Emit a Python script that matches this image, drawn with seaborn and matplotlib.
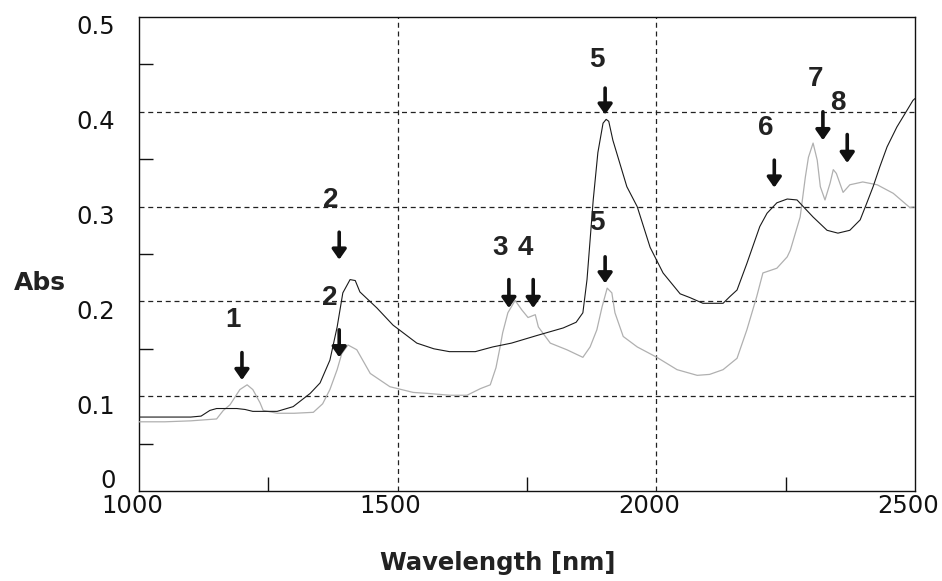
import numpy as np
import pandas as pd
import matplotlib
matplotlib.use("Agg")
import matplotlib.pyplot as plt
from matplotlib.transforms import ScaledTranslation
import seaborn as sns

# ---- data ----
wl_dark = [1000, 1050, 1100, 1120, 1137, 1150, 1189, 1205, 1220, 1267, 1298, 1331, 1350,
           1369, 1383, 1394, 1408, 1418, 1427, 1460, 1491, 1537, 1570, 1600, 1650, 1684,
           1720, 1769, 1820, 1845, 1858, 1866, 1872, 1878, 1887, 1897, 1903, 1908, 1916,
           1943, 1963, 1988, 2013, 2046, 2065, 2090, 2129, 2142, 2156, 2175, 2191, 2200,
           2214, 2233, 2253, 2272, 2284, 2303, 2330, 2351, 2374, 2394, 2407, 2419, 2432,
           2446, 2465, 2485, 2496, 2500]
abs_dark = [0.078, 0.078, 0.078, 0.079, 0.085, 0.087, 0.087, 0.086, 0.084, 0.084, 0.089,
            0.103, 0.114, 0.138, 0.173, 0.209, 0.223, 0.222, 0.210, 0.193, 0.175, 0.156,
            0.150, 0.147, 0.147, 0.152, 0.156, 0.164, 0.172, 0.178, 0.188, 0.223, 0.265,
            0.307, 0.357, 0.388, 0.392, 0.390, 0.370, 0.321, 0.300, 0.257, 0.230, 0.208,
            0.204, 0.198, 0.198, 0.205, 0.212, 0.240, 0.265, 0.279, 0.293, 0.304, 0.308,
            0.307, 0.300, 0.289, 0.275, 0.272, 0.275, 0.286, 0.304, 0.321, 0.342, 0.363,
            0.384, 0.402, 0.412, 0.414]

wl_light = [1000, 1050, 1100, 1150, 1163, 1176, 1195, 1209, 1220, 1234, 1240, 1267, 1300,
            1337, 1355, 1369, 1383, 1392, 1404, 1421, 1447, 1485, 1530, 1557, 1601, 1634,
            1660, 1679, 1690, 1698, 1703, 1713, 1727, 1740, 1752, 1766, 1772, 1795, 1827,
            1858, 1872, 1885, 1895, 1905, 1914, 1920, 1936, 1963, 2001, 2040, 2079, 2103,
            2129, 2156, 2175, 2194, 2206, 2233, 2253, 2259, 2278, 2288, 2294, 2303, 2311,
            2317, 2326, 2336, 2342, 2348, 2361, 2374, 2399, 2427, 2458, 2490, 2500]
abs_light = [0.073, 0.073, 0.074, 0.076, 0.085, 0.091, 0.107, 0.112, 0.107, 0.093, 0.085,
             0.082, 0.082, 0.083, 0.092, 0.107, 0.128, 0.145, 0.154, 0.149, 0.124, 0.110,
             0.104, 0.103, 0.101, 0.101, 0.108, 0.112, 0.130, 0.152, 0.167, 0.188, 0.201,
             0.191, 0.183, 0.186, 0.173, 0.156, 0.149, 0.141, 0.152, 0.170, 0.194, 0.214,
             0.209, 0.188, 0.163, 0.152, 0.141, 0.128, 0.122, 0.123, 0.128, 0.140, 0.170,
             0.205, 0.230, 0.235, 0.247, 0.254, 0.289, 0.331, 0.352, 0.367, 0.349, 0.321,
             0.307, 0.325, 0.339, 0.335, 0.315, 0.323, 0.326, 0.323, 0.314, 0.299, 0.300]

# peak annotations: label, arrow x, arrow top, arrow tip, text x, text y
peak_labels = ["1", "2", "2", "3", "4", "5", "5", "6", "7", "8"]
arrow_x = [1199, 1387, 1387, 1715, 1762, 1901, 1901, 2228, 2322, 2369]
arrow_top = [0.146, 0.273, 0.170, 0.223, 0.223, 0.425, 0.247, 0.349, 0.400, 0.376]
arrow_tip = [0.117, 0.244, 0.141, 0.193, 0.193, 0.397, 0.219, 0.320, 0.370, 0.346]
text_x = [1182, 1371, 1369, 1698, 1746, 1885, 1885, 2212, 2307, 2351]
text_y = [0.180, 0.307, 0.204, 0.256, 0.256, 0.455, 0.283, 0.383, 0.435, 0.409]

x_ticks = [1000, 1500, 2000, 2500]
y_ticks = [0, 0.1, 0.2, 0.3, 0.4, 0.5]
y_tick_labels = ["0", "0.1", "0.2", "0.3", "0.4", "0.5"]

# ---- plot ----
sns.set_theme(style="white")
plt.rcParams["font.family"] = ["DejaVu Sans"]

fig = plt.figure(figsize=(9.42, 5.81), dpi=100)
ax = fig.add_axes([139 / 942, 90 / 581, 776 / 942, 474 / 581])

df_dark = pd.DataFrame({"wl": wl_dark, "abs": abs_dark})
df_light = pd.DataFrame({"wl": wl_light, "abs": abs_light})
sns.lineplot(data=df_light, x="wl", y="abs", color="#b0b0b0", linewidth=0.9, ax=ax, zorder=3)
sns.lineplot(data=df_dark, x="wl", y="abs", color="#1a1a1a", linewidth=0.8, ax=ax, zorder=4)

ax.set_xlim(1000, 2500)
ax.set_ylim(0, 0.5)

# dashed grid
for yv in [0.1, 0.2, 0.3, 0.4]:
    ax.axhline(yv, color="#222222", linewidth=0.9, linestyle=(0, (4, 3)), zorder=1)
for xv in [1500, 2000]:
    ax.axvline(xv, color="#222222", linewidth=0.9, linestyle=(0, (4, 3)), zorder=1)

for s in ax.spines.values():
    s.set_color("#111111")
    s.set_linewidth(1.0)
    s.set_visible(True)

ax.set_xticks(x_ticks, labels=[str(v) for v in x_ticks])
ax.set_yticks(y_ticks, labels=y_tick_labels)
ax.set_xticks([1250, 1500, 1750, 2000, 2250], minor=True)
ax.set_yticks([0.05, 0.15, 0.25, 0.35, 0.45], minor=True)
ax.tick_params(axis="both", which="major", length=0, labelsize=17.5, colors="#111111")
ax.tick_params(axis="x", which="major", pad=2)
ax.tick_params(axis="y", which="major", pad=17)
ax.tick_params(axis="both", which="minor", direction="in", length=10, width=1.0,
               color="#111111", bottom=True, left=True, top=False, right=False)

# offsets of tick labels as in reference
for lbl in ax.get_xticklabels():
    lbl.set_transform(lbl.get_transform() + ScaledTranslation(-0.07, 0, fig.dpi_scale_trans))
for lbl in ax.get_yticklabels():
    dy = 0.13 if lbl.get_text() == "0" else -0.08
    lbl.set_transform(lbl.get_transform() + ScaledTranslation(0, dy, fig.dpi_scale_trans))

ax.set_xlabel("Wavelength [nm]", fontsize=17.5, fontweight="bold", color="#222222",
              va="center", ha="center")
ax.xaxis.set_label_coords((498 - 139) / 776, -(563 - 491) / 474)
ax.set_ylabel("Abs", fontsize=18, fontweight="bold", rotation=0, color="#222222",
              va="center", ha="center")
ax.yaxis.set_label_coords((40 - 139) / 776, (491 - 283) / 474)

for lab, ax_x, yt, yp, tx, ty in zip(peak_labels, arrow_x, arrow_top, arrow_tip, text_x, text_y):
    ax.annotate("", xy=(ax_x, yp), xytext=(ax_x, yt),
                arrowprops=dict(arrowstyle="-|>,head_width=0.35,head_length=0.5",
                                color="#111111", linewidth=2.6, shrinkA=0, shrinkB=0),
                zorder=5)
    ax.text(tx, ty, lab, fontsize=20, fontweight="bold", ha="center", va="center",
            color="#222222", family=["Liberation Sans", "DejaVu Sans"], zorder=5)

fig.savefig("out.png", dpi=100)
